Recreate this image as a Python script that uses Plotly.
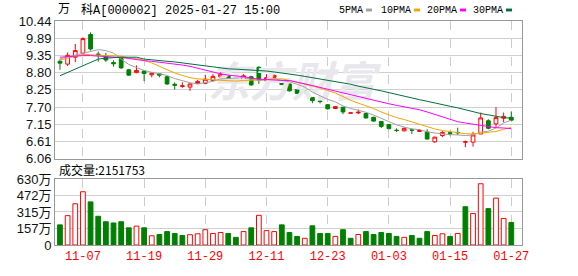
import plotly.graph_objects as go

dates = ["11-04","11-05","11-06","11-07","11-08","11-11","11-12","11-13","11-14","11-15",
         "11-18","11-19","11-20","11-21","11-22","11-25","11-26","11-27","11-28","11-29",
         "12-02","12-03","12-04","12-05","12-06","12-09","12-10","12-11","12-12","12-13",
         "12-16","12-17","12-18","12-19","12-20","12-23","12-24","12-25","12-26","12-27",
         "12-30","12-31","01-02","01-03","01-06","01-07","01-08","01-09","01-10","01-13",
         "01-14","01-15","01-16","01-17","01-20","01-21","01-22","01-23","01-24","01-27"]

open_ = [9.16,9.07,9.29,9.42,10.01,9.39,9.30,9.12,9.25,8.89,
         8.80,8.85,8.73,8.76,8.67,8.43,8.36,8.34,8.45,8.46,
         8.55,8.66,8.70,8.51,8.54,8.67,8.97,8.54,8.65,8.55,
         8.44,8.26,8.21,8.01,7.90,7.78,7.66,7.70,7.51,7.52,
         7.50,7.38,7.25,7.15,6.97,6.95,6.98,6.93,6.91,6.60,
         6.80,6.89,6.90,6.59,6.59,6.85,7.27,7.17,7.35,7.38]
high = [9.22,9.44,9.71,9.92,10.08,9.47,9.43,9.19,9.26,8.92,
        9.03,8.87,8.80,8.77,8.69,8.49,8.49,8.45,8.57,8.73,
        8.75,8.81,8.70,8.54,8.75,8.70,9.00,8.75,8.74,8.56,
        8.45,8.28,8.25,8.02,7.93,7.80,7.73,7.71,7.53,7.63,
        7.52,7.40,7.26,7.16,7.03,7.06,7.03,7.01,7.00,6.76,
        6.94,6.95,7.05,6.64,6.92,7.53,7.32,7.70,7.53,7.56]
low = [8.89,9.01,9.13,9.38,9.50,9.15,9.14,8.99,8.92,8.70,
       8.78,8.53,8.65,8.65,8.41,8.26,8.32,8.22,8.44,8.43,
       8.54,8.62,8.53,8.49,8.53,8.38,8.44,8.50,8.62,8.40,
       8.20,8.12,8.14,7.83,7.82,7.62,7.64,7.48,7.50,7.48,
       7.34,7.24,7.04,7.00,6.91,6.93,6.85,6.92,6.68,6.57,
       6.75,6.80,6.82,6.43,6.45,6.85,7.00,7.07,7.22,7.25]
close = [9.10,9.35,9.50,9.88,9.55,9.37,9.20,9.08,8.95,8.72,
         8.87,8.77,8.78,8.72,8.44,8.40,8.38,8.44,8.52,8.59,
         8.68,8.75,8.56,8.52,8.70,8.41,8.57,8.64,8.71,8.42,
         8.22,8.14,8.19,7.91,7.88,7.65,7.72,7.55,7.52,7.54,
         7.36,7.26,7.09,7.02,6.96,7.03,6.97,6.96,6.69,6.75,
         6.90,6.87,6.89,6.60,6.82,7.36,7.03,7.37,7.41,7.29]

ma5 = [9.24,9.30,9.36,9.43,9.48,9.53,9.50,9.42,9.23,9.06,
       8.96,8.87,8.81,8.76,8.71,8.61,8.54,8.48,8.44,8.47,
       8.52,8.60,8.62,8.62,8.64,8.59,8.55,8.57,8.61,8.55,
       8.51,8.43,8.34,8.18,8.07,7.95,7.87,7.74,7.66,7.60,
       7.54,7.45,7.35,7.25,7.14,7.07,7.01,6.99,6.92,6.88,
       6.85,6.83,6.82,6.80,6.82,6.91,6.94,7.04,7.20,7.29]
ma10 = [9.20,9.26,9.32,9.38,9.37,9.35,9.34,9.34,9.32,9.27,
        9.25,9.19,9.11,9.00,8.89,8.79,8.71,8.64,8.60,8.59,
        8.57,8.57,8.55,8.53,8.55,8.56,8.57,8.59,8.61,8.60,
        8.55,8.49,8.45,8.39,8.31,8.23,8.15,8.04,7.92,7.83,
        7.75,7.66,7.55,7.46,7.37,7.31,7.23,7.17,7.09,7.01,
        6.96,6.92,6.90,6.86,6.85,6.88,6.89,6.93,7.00,7.06]
ma20 = [9.29,9.31,9.32,9.34,9.34,9.33,9.31,9.30,9.28,9.25,
        9.21,9.18,9.16,9.13,9.11,9.09,9.04,9.00,8.94,8.86,
        8.80,8.76,8.72,8.70,8.67,8.63,8.59,8.58,8.56,8.55,
        8.55,8.50,8.46,8.39,8.33,8.27,8.21,8.15,8.09,8.04,
        7.98,7.92,7.86,7.81,7.76,7.72,7.67,7.62,7.55,7.47,
        7.39,7.32,7.24,7.20,7.16,7.12,7.09,7.05,7.04,7.02]
ma30 = [8.70,8.81,8.92,9.03,9.13,9.23,9.26,9.28,9.29,9.29,
        9.29,9.23,9.20,9.18,9.16,9.14,9.11,9.07,9.03,9.00,
        8.97,8.94,8.92,8.91,8.90,8.89,8.87,8.85,8.82,8.79,
        8.77,8.72,8.68,8.64,8.59,8.55,8.51,8.47,8.43,8.37,
        8.33,8.27,8.22,8.16,8.10,8.05,8.00,7.94,7.89,7.83,
        7.78,7.73,7.68,7.63,7.56,7.50,7.45,7.40,7.37,7.35]

# volume in 万 (10k lots)
volume = [192,280,393,508,411,274,222,210,222,164,
          180,164,88,100,128,110,91,98,107,146,
          110,119,110,73,128,164,283,137,128,192,
          119,82,64,183,110,110,82,146,64,100,
          128,100,119,110,82,73,91,64,128,91,
          107,82,110,365,301,584,347,447,253,215.1753]

price_ticks = ["10.44","9.89","9.35","8.80","8.25","7.70","7.15","6.61","6.06"]
vol_ticks = ["630万","472万","315万","157万","0"]
vol_tickvals = [630,472.5,315,157.5,0]
tick_every = 8
tick_start = 3

RED = "#ff0000"
GREEN = "#008000"
idx = list(range(len(dates)))

fig = go.Figure()

# watermark (drawn first so it sits beneath the marks)
fig.add_trace(go.Scatter(x=[30.3], y=[8.36], mode="text", text=["<b><i>东方财富</i></b>"],
                         textfont=dict(size=42, color="#e8e8ec", family="Noto Sans CJK SC"),
                         hoverinfo="skip", showlegend=False, xaxis="x", yaxis="y"))

ma_styles = [(ma5, "#a0a0a0"), (ma10, "#f5a300"), (ma20, "#ff00ff"), (ma30, "#00703c")]
for vals, col in ma_styles:
    fig.add_trace(go.Scatter(x=idx, y=vals, mode="lines", line=dict(color=col, width=1),
                             showlegend=False, hoverinfo="skip", xaxis="x", yaxis="y"))

fig.add_trace(go.Candlestick(
    x=idx, open=open_, high=high, low=low, close=close,
    increasing=dict(line=dict(color=RED, width=1), fillcolor="white"),
    decreasing=dict(line=dict(color=GREEN, width=1), fillcolor=GREEN),
    whiskerwidth=0, showlegend=False, xaxis="x", yaxis="y"))

vol_up = [close[0] >= open_[0]] + [close[i] > close[i-1] for i in range(1, len(close))]
fig.add_trace(go.Bar(
    x=idx, y=volume, width=0.62,
    marker=dict(color=["white" if u else GREEN for u in vol_up],
                line=dict(color=[RED if u else GREEN for u in vol_up], width=1)),
    showlegend=False, hoverinfo="skip", xaxis="x2", yaxis="y2"))

tickvals = idx[tick_start::tick_every]
ticktext = [dates[i] for i in tickvals]

xr = [-0.65, 60.4]
axis_common = dict(showline=True, mirror=True, linecolor="#999999", linewidth=1, zeroline=False)
fig.update_layout(
    width=578, height=276,
    margin=dict(l=55, r=56, t=21, b=21),
    paper_bgcolor="white", plot_bgcolor="white",
    showlegend=False,
    xaxis=dict(domain=[0, 1], range=xr, tickvals=tickvals, showticklabels=False,
               showgrid=True, gridcolor="#cccccc", griddash="dash", gridwidth=1,
               rangeslider=dict(visible=False), anchor="y", **axis_common),
    yaxis=dict(domain=[0.3846, 1], range=[6.06, 10.44],
               tickvals=[float(t) for t in price_ticks], ticktext=price_ticks,
               showgrid=True, gridcolor="#d0d0d0", gridwidth=1,
               tickfont=dict(family="Liberation Sans, Arial", size=13, color="#111111"),
               anchor="x", **axis_common),
    xaxis2=dict(domain=[0, 1], range=xr, matches="x", tickvals=tickvals, ticktext=ticktext,
                showgrid=True, gridcolor="#cccccc", griddash="dash", gridwidth=1,
                tickfont=dict(family="Liberation Mono, DejaVu Sans Mono", size=12, color=RED),
                ticks="", anchor="y2", **axis_common),
    yaxis2=dict(domain=[0, 0.2949], range=[0, 630], tickvals=vol_tickvals, ticktext=vol_ticks,
                showgrid=True, gridcolor="#d0d0d0", gridwidth=1,
                tickfont=dict(family="Liberation Sans, Noto Sans CJK SC", size=13, color="#111111"),
                anchor="x2", **axis_common),
    font=dict(family="Liberation Sans, Noto Sans CJK SC"),
)

def px_x(px):
    return (px - 55) / 467.0

def px_y(py):
    return (255 - py) / 234.0

title_font = dict(family="Liberation Mono, Noto Sans CJK SC", size=12, color="#000000")
fig.add_annotation(x=px_x(56), y=px_y(10), xref="paper", yref="paper", xanchor="left",
                   yanchor="middle", showarrow=False, text="万", font=title_font)
fig.add_annotation(x=px_x(79), y=px_y(10), xref="paper", yref="paper", xanchor="left",
                   yanchor="middle", showarrow=False, text="科A[000002] 2025-01-27 15:00",
                   font=title_font)

legend_items = [("5PMA", "#a0a0a0", 337, 366), ("10PMA", "#f5a300", 379, 414),
                ("20PMA", "#ff00ff", 425, 460), ("30PMA", "#00703c", 471, 506)]
for name, col, px, rx in legend_items:
    fig.add_annotation(x=px_x(px), y=px_y(10), xref="paper", yref="paper", xanchor="left",
                       yanchor="middle", showarrow=False, text=name,
                       font=dict(family="Liberation Mono, DejaVu Sans Mono", size=10, color="#000"))
    fig.add_shape(type="rect", xref="paper", yref="paper",
                  x0=px_x(rx), x1=px_x(rx + 6), y0=px_y(11), y1=px_y(8),
                  fillcolor=col, line=dict(width=0))

fig.add_annotation(x=px_x(57), y=px_y(176), xref="paper", yref="paper", xanchor="left",
                   yanchor="middle", showarrow=False,
                   text="成交量:" + str(int(round(volume[-1] * 10000))),
                   font=dict(family="Noto Sans CJK SC", size=12, color="#000"))

fig.write_html("out.html")
